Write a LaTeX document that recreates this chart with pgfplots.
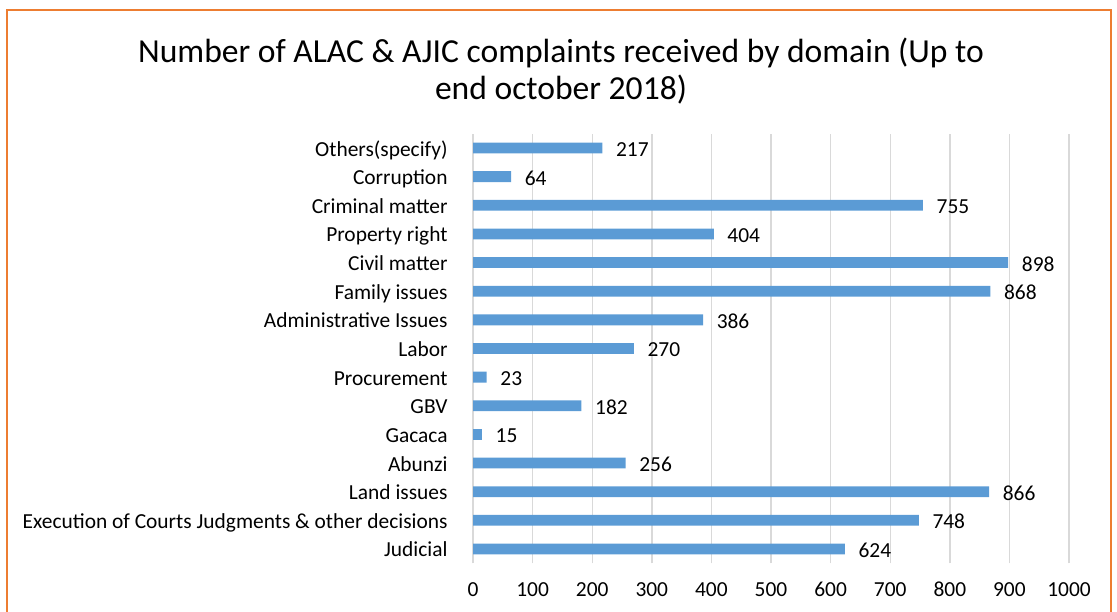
\documentclass[border=0pt]{standalone}
\usepackage{pgfplots}
\pgfplotsset{compat=1.18}
\usepackage{fontspec}
\setmainfont{Carlito}
\definecolor{barblue}{RGB}{91,155,213}
\definecolor{frameorange}{RGB}{237,125,49}
\definecolor{gridgray}{RGB}{217,217,217}
\begin{document}
\begin{tikzpicture}[x=1bp,y=1bp]
\useasboundingbox (0,0) rectangle (1117,612);
\draw[frameorange, line width=2bp] (7,-2) -- (7,602) -- (1111,602) -- (1111,-2);
\node[font=\fontsize{33.7}{38}\selectfont, align=center, inner sep=0pt] at (561,541) {Number of ALAC \& AJIC complaints received by domain (Up to\\end october 2018)};
\begin{axis}[
  at={(473bp,48.7bp)}, anchor=south west,
  scale only axis, width=596bp, height=429.6bp,
  xmin=0, xmax=1000, ymin=-0.5, ymax=14.5,
  xbar, bar width=10.8bp,
  axis line style={draw=none},
  tick style={draw=none},
  xmajorgrids, grid style={gridgray, line width=1.4bp},
  xtick={0,100,...,1000},
  ytick={0,...,14},
  yticklabels={Judicial,Execution of Courts Judgments \& other decisions,Land issues,Abunzi,Gacaca,GBV,Procurement,Labor,Administrative Issues,Family issues,Civil matter,Property right,Criminal matter,Corruption,Others(specify)},
  /pgf/number format/assume math mode=true,
  /pgf/number format/1000 sep={},
  ticklabel style={font=\fontsize{21.5}{24}\selectfont, inner sep=0pt},
  xticklabel style={anchor=base, yshift=-33.7bp},
  yticklabel style={anchor=base east, xshift=-21bp, yshift=-8bp},
  nodes near coords,
  nodes near coords style={font=\fontsize{21.5}{24}\selectfont, anchor=base west, inner sep=0pt, xshift=13.5bp, yshift=-8.5bp, black},
]
\addplot[fill=barblue, draw=none] coordinates {
(624,0) (748,1) (866,2) (256,3) (15,4) (182,5) (23,6) (270,7) (386,8) (868,9) (898,10) (404,11) (755,12) (64,13) (217,14)};
\end{axis}
\end{tikzpicture}
\end{document}
